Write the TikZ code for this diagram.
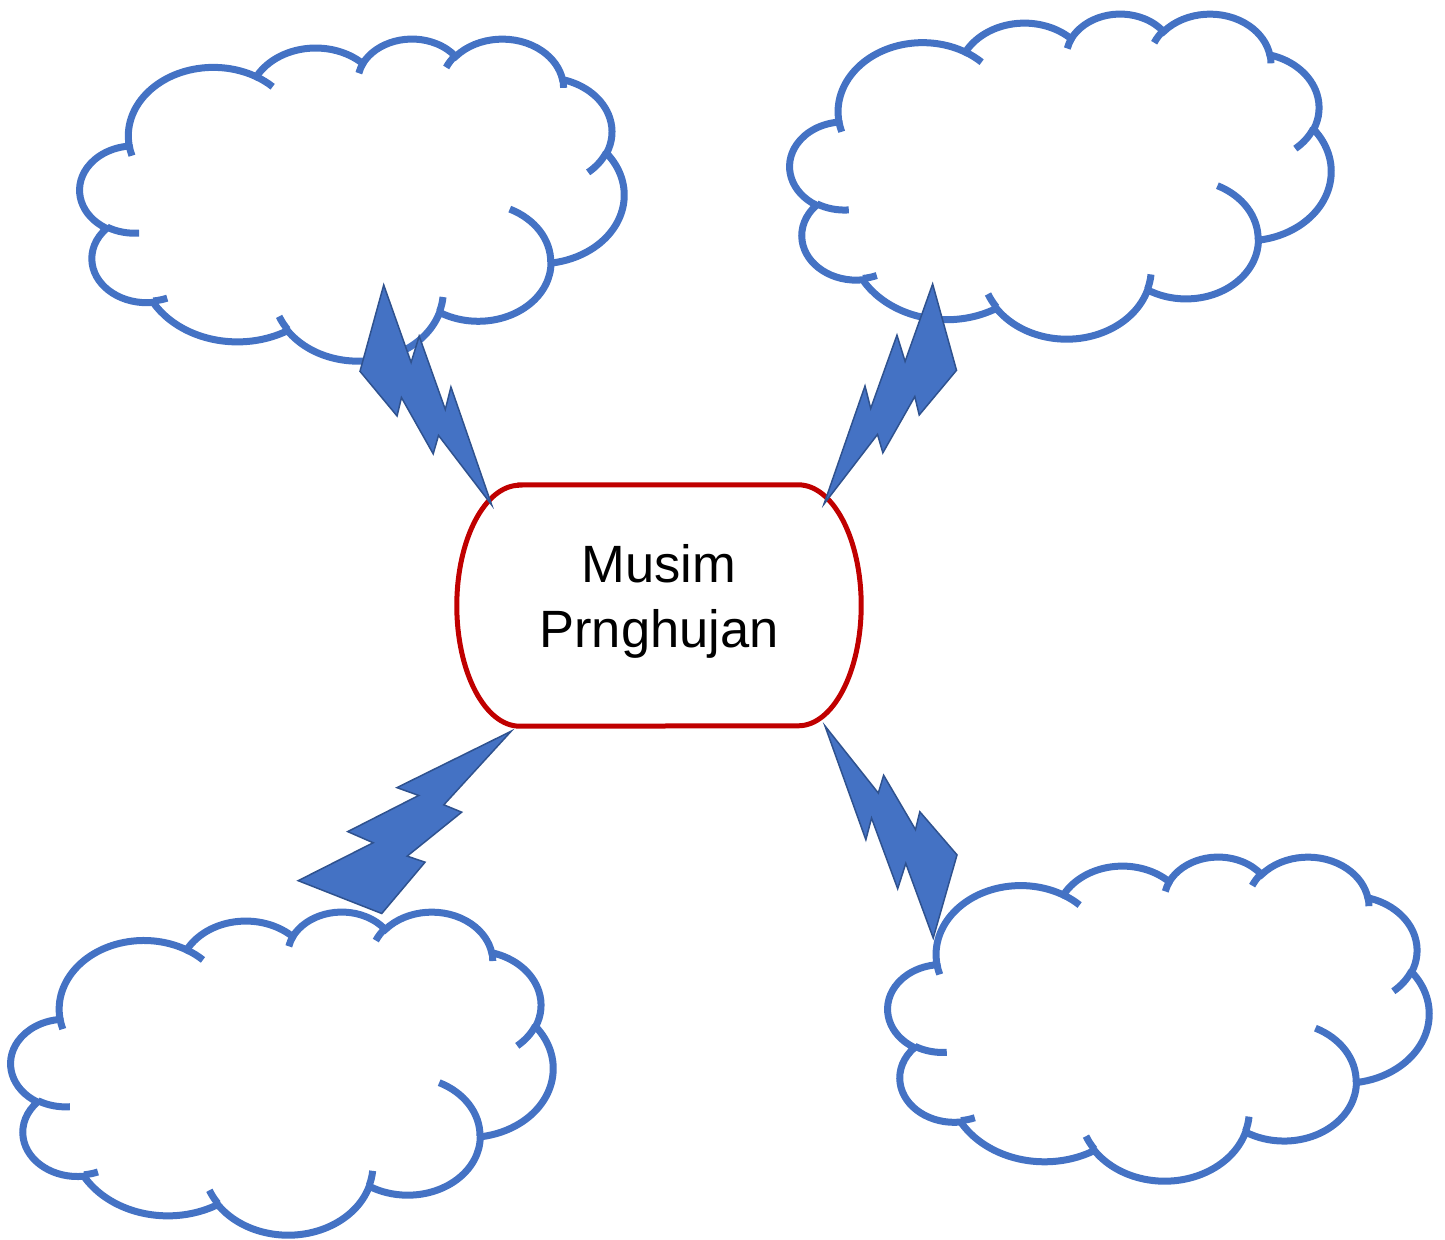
\documentclass[tikz,border=0pt]{standalone}
\usepackage{fontspec}
\setmainfont{Liberation Sans}

\definecolor{awanblue}{HTML}{4472C4}
\definecolor{petirline}{HTML}{2F528F}
\definecolor{musimred}{HTML}{C00000}

\tikzset{
  awanline/.style={draw=awanblue, line width=7pt},
  musimline/.style={draw=musimred, line width=5pt},
  musimbox/.style={minimum width=404pt, minimum height=241pt, inner sep=0pt,
    align=center, text depth=19pt, font=\fontsize{52.5}{65}\selectfont},
  petir/.style={fill=awanblue, draw=petirline, line width=1.5pt}
}

% arc of the office cloud, radii and angles as in the shape
\newcommand\ooarc[4]{arc[x radius=#1, y radius=#2,
  start angle={atan2(#1*sin(#3),#2*cos(#3))},
  delta angle={mod(atan2(#1*sin(#3+#4),#2*cos(#3+#4))-atan2(#1*sin(#3),#2*cos(#3))+720,360)}]}

% cloud in a frame: left, top, width, height
\newcommand\awan[4]{%
  \begin{scope}[shift={(#1,#2)}, x=1cm, y=1cm, xscale={#3/1229.16}, yscale={-#4/1229.16}]
    \draw[awanline, fill=white] (3.900,14.370)
      \ooarc{6.753}{9.190}{-190.48748}{123.78053}
      \ooarc{5.333}{7.267}{-144.10238}{89.94523}
      \ooarc{4.365}{5.945}{-145.80792}{99.72302}
      \ooarc{4.857}{6.595}{-130.98607}{117.24173}
      \ooarc{5.333}{7.273}{-78.70888}{109.02692}
      \ooarc{6.775}{9.220}{-46.26725}{130.26900}
      \ooarc{5.785}{7.867}{0.62502}{114.03333}
      \ooarc{6.752}{9.215}{22.45160}{115.17255}
      \ooarc{7.720}{10.543}{66.24263}{75.71102}
      \ooarc{4.360}{5.918}{-274.94208}{146.73557}
      \ooarc{4.345}{5.945}{-246.82850}{152.51885} -- cycle;
    \draw[awanline]
      (4.693,26.177) \ooarc{4.345}{5.945}{86.74200}{26.42950}
      (6.928,34.899) \ooarc{4.360}{5.918}{73.61047}{11.44747}
      (16.478,39.090) \ooarc{6.752}{9.215}{137.62415}{14.08110}
      (28.827,34.751) \ooarc{6.752}{9.215}{6.45327}{15.99835}
      (34.129,22.954) \ooarc{5.785}{7.867}{-70.29235}{70.91737}
      (41.798,15.354) \ooarc{5.333}{7.273}{30.31803}{27.75150}
      (38.324,5.426) \ooarc{4.857}{6.595}{-13.74433}{14.85890}
      (29.078,3.952) \ooarc{4.857}{6.595}{-149.18145}{18.19537}
      (22.141,4.720) \ooarc{4.365}{5.945}{-163.49427}{17.68635}
      (14.000,5.192) \ooarc{6.753}{9.190}{-66.70695}{12.31935}
      (4.127,15.789) \ooarc{6.753}{9.190}{157.65435}{11.85817};
  \end{scope}}

\newcommand\petirpath{(8.472,0) -- (12.860,6.080) -- (11.050,6.797) -- (16.577,12.007)
  -- (14.767,12.877) -- (21.6,21.6) -- (10.012,14.915) -- (12.222,13.987)
  -- (5.022,9.705) -- (7.602,8.382) -- (0,3.890) -- cycle}

\begin{document}
\begin{tikzpicture}[x=1pt, y=-1pt]
  \useasboundingbox (0,0) rectangle (1445,1239);

  \node[musimbox] (musim) at (659,605.5) {Musim\\Prnghujan};
  \draw[musimline] ([xshift=63pt]musim.north west) -- ([xshift=-63pt]musim.north east)
    arc[start angle=90, end angle=-90, x radius=63pt, y radius=120.5pt]
    -- ([xshift=63pt]musim.south west)
    arc[start angle=270, end angle=90, x radius=63pt, y radius=120.5pt] -- cycle;

  \awan{80}{38}{544}{322}
  \awan{790}{13}{541}{325}
  \awan{11}{911}{542}{323}
  \awan{888}{856}{541}{324}

  \begin{scope}[shift={(360,285)}, x={(0pt,-10.185pt)}, y={(6.097pt,0pt)}]
    \draw[petir] \petirpath;
  \end{scope}
  \begin{scope}[shift={(956.5,284)}, x={(0pt,-10.185pt)}, y={(-6.134pt,0pt)}]
    \draw[petir] \petirpath;
  \end{scope}
  \begin{scope}[shift={(957,938)}, x={(0pt,9.815pt)}, y={(-6.111pt,0pt)}]
    \draw[petir] \petirpath;
  \end{scope}
  \begin{scope}[shift={(298.2,913.5)}, x={(9.861pt,0pt)}, y={(0pt,8.440pt)}]
    \draw[petir] \petirpath;
  \end{scope}

\end{tikzpicture}
\end{document}
